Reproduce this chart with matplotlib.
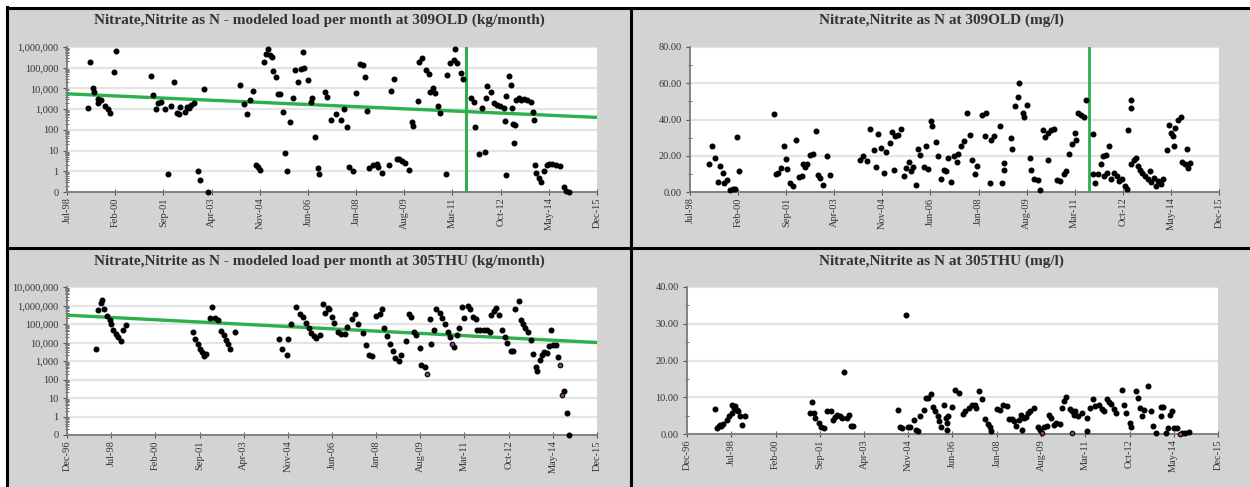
import datetime as dt

import matplotlib
matplotlib.use("Agg")
import matplotlib.pyplot as plt
import matplotlib.ticker as ticker
from matplotlib.lines import Line2D
from matplotlib.patches import Rectangle

# ---- data (dates as decimal years) ----
top_ticks = ["Jul-98", "Feb-00", "Sep-01", "Apr-03", "Nov-04", "Jun-06",
             "Jan-08", "Aug-09", "Mar-11", "Oct-12", "May-14", "Dec-15"]
bottom_ticks = ["Dec-96"] + top_ticks

break_date = 2011.62

# 309OLD modeled load (kg/month)
old_load_dates = [
    1999.17, 1999.26, 1999.34, 1999.40, 1999.50, 1999.62, 1999.53, 1999.75, 1999.83, 1999.92,
    2000.04, 2000.11, 2001.25, 2001.33, 2001.42, 2001.50, 2001.58, 2001.73, 2001.83, 2001.92,
    2002.00, 2002.11, 2002.17, 2002.22, 2002.38, 2002.43, 2002.49, 2002.58, 2002.66, 2002.80,
    2002.88, 2003.00, 2003.12, 2004.17, 2004.33, 2004.42, 2004.52, 2004.61, 2004.72, 2004.76,
    2004.85, 2004.96, 2005.03, 2005.10, 2005.16, 2005.23, 2005.27, 2005.35, 2005.42, 2005.50,
    2005.59, 2005.67, 2005.73, 2005.83, 2005.92, 2006.00, 2006.08, 2006.17, 2006.24, 2006.30,
    2006.41, 2006.55, 2006.50, 2006.66, 2006.73, 2006.77, 2006.96, 2007.03, 2007.17, 2007.33,
    2007.51, 2007.61, 2007.69, 2007.78, 2007.88, 2008.00, 2008.13, 2008.21, 2008.30, 2008.36,
    2008.43, 2008.55, 2008.68, 2008.73, 2008.84, 2009.08, 2009.14, 2009.23, 2009.33, 2009.42,
    2009.50, 2009.61, 2009.72, 2009.83, 2009.88, 2010.03, 2010.08, 2010.16, 2010.29, 2010.38,
    2010.43, 2010.51, 2010.58, 2010.68, 2010.77, 2010.95, 2011.00, 2011.08, 2011.20, 2011.26,
    2011.31, 2011.45, 2011.51, 2011.78, 2011.86, 2011.92, 2012.03, 2012.23, 2012.12, 2012.27,
    2012.30, 2012.42, 2012.52, 2012.63, 2012.73, 2012.85, 2012.88, 2012.93, 2012.94, 2013.03,
    2013.08, 2013.13, 2013.14, 2013.23, 2013.18, 2013.26, 2013.34, 2013.43, 2013.51, 2013.62,
    2013.73, 2013.80, 2013.83, 2013.87, 2013.92, 2014.00, 2014.08, 2014.17, 2014.27, 2014.35,
    2014.43, 2014.57, 2014.71, 2014.82, 2014.89, 2014.98]
old_load_vals = [
    1100, 180000, 11000, 7000, 3000, 2700, 1900, 1400, 1000, 630,
    59000, 650000, 40000, 4800, 980, 1900, 2300, 980, 0.72, 1400,
    19500, 630, 560, 1300, 740, 1300, 1100, 1500, 1900, 1.05,
    0.39, 9000, 0.1, 14500, 1750, 560, 2700, 7400, 2.0, 1.7,
    1.1, 180000, 480000, 830000, 430000, 330000, 68000, 34000, 5300, 5300,
    740, 7.4, 1.0, 230, 3500, 81000, 21000, 91000, 570000, 100000,
    25000, 3500, 2300, 47, 1.5, 0.76, 6900, 4000, 300, 570,
    310, 980, 130, 1.7, 1.0, 5800, 158000, 130000, 36000, 830,
    1.4, 2.0, 2.2, 1.7, 0.87, 2.0, 7600, 27000, 3.8, 3.8,
    3.3, 2.5, 1.1, 250, 155, 2500, 190000, 310000, 76000, 52000,
    6900, 11000, 6100, 1400, 670, 0.76, 44000, 160000, 230000, 830000,
    160000, 56000, 27000, 3300, 2300, 140, 6.9, 9, 1200, 3300,
    13000, 6900, 1900, 1600, 1400, 1200, 280, 4300, 0.68, 39000,
    14500, 1200, 200, 170, 22, 2800, 3300, 2800, 3000, 2800,
    2300, 740, 300, 2.0, 0.8, 0.47, 0.32, 1.0, 2.0, 2.3,
    2.2, 2.0, 1.8, 0.17, 0.11, 0.1]
old_trend_dates = [1998.50, 2015.92]
old_trend_vals = [5500, 400]

# 309OLD concentration (mg/l)
old_conc_dates = [
    1999.13, 1999.22, 1999.33, 1999.41, 1999.48, 1999.59, 1999.63, 1999.73, 1999.82, 1999.90,
    1999.97, 2000.03, 2000.10, 2001.25, 2001.33, 2001.39, 2001.50, 2001.58, 2001.64, 2001.69,
    2001.80, 2001.89, 2002.00, 2002.08, 2002.17, 2002.20, 2002.28, 2002.35, 2002.44, 2002.53,
    2002.64, 2002.72, 2002.79, 2002.86, 2003.02, 2003.10, 2004.10, 2004.18, 2004.32, 2004.41,
    2004.54, 2004.63, 2004.70, 2004.78, 2004.87, 2004.96, 2005.07, 2005.13, 2005.20, 2005.26,
    2005.33, 2005.44, 2005.53, 2005.61, 2005.70, 2005.78, 2005.84, 2005.92, 2005.99, 2006.08,
    2006.19, 2006.27, 2006.33, 2006.42, 2006.48, 2006.58, 2006.66, 2006.77, 2006.86, 2006.92,
    2006.99, 2007.08, 2007.19, 2007.28, 2007.33, 2007.43, 2007.52, 2007.63, 2007.71, 2007.79,
    2007.87, 2007.96, 2008.11, 2008.20, 2008.25, 2008.36, 2008.41, 2008.52, 2008.69, 2008.78,
    2008.83, 2008.85, 2009.05, 2009.09, 2009.20, 2009.31, 2009.34, 2009.46, 2009.48, 2009.60,
    2009.68, 2009.73, 2009.83, 2009.95, 2010.03, 2010.11, 2010.18, 2010.28, 2010.28, 2010.38,
    2010.49, 2010.58, 2010.69, 2010.80, 2010.88, 2010.98, 2011.08, 2011.18, 2011.21, 2011.28,
    2011.37, 2011.46, 2011.53, 2011.75, 2011.78, 2011.83, 2011.92, 2012.03, 2012.11, 2012.13,
    2012.19, 2012.24, 2012.30, 2012.35, 2012.46, 2012.55, 2012.63, 2012.73, 2012.81, 2012.88,
    2012.93, 2013.01, 2013.03, 2013.03, 2013.12, 2013.19, 2013.23, 2013.32, 2013.39, 2013.47,
    2013.56, 2013.64, 2013.68, 2013.78, 2013.83, 2013.91, 2013.99, 2014.08, 2014.19, 2014.27,
    2014.34, 2014.40, 2014.43, 2014.48, 2014.56, 2014.65, 2014.70, 2014.81, 2014.87, 2014.90,
    2014.96]
old_conc_vals = [
    15.2, 25.6, 18.8, 5.7, 14.2, 10.6, 5.1, 6.4, 1.1, 1.8,
    1.5, 30.5, 11.5, 43.1, 10.0, 10.6, 13.3, 25.6, 18.3, 12.8,
    5.1, 3.3, 28.9, 8.4, 8.8, 15.2, 13.7, 15.7, 20.3, 21.2,
    33.4, 9.3, 7.5, 4.0, 19.7, 9.3, 17.4, 19.7, 17.0, 34.7,
    23.4, 13.9, 32.0, 24.3, 10.6, 21.9, 27.0, 32.9, 12.4, 30.7,
    31.4, 34.7, 8.8, 13.3, 16.4, 11.5, 13.9, 3.7, 23.9, 20.6,
    13.9, 25.2, 12.8, 38.9, 36.5, 27.4, 20.1, 6.9, 12.4, 11.5,
    18.8, 5.5, 20.1, 16.4, 21.2, 25.6, 27.9, 43.5, 31.6, 17.9,
    10.2, 14.2, 42.6, 30.7, 43.5, 4.7, 28.9, 31.1, 36.2, 4.7,
    12.4, 16.1, 29.8, 23.9, 47.5, 52.2, 60.3, 43.8, 41.3, 48.0,
    18.8, 12.4, 7.3, 6.6, 1.1, 34.3, 30.3, 32.5, 17.9, 34.0,
    34.7, 6.6, 6.0, 9.7, 11.5, 21.2, 26.7, 32.5, 28.9, 43.8,
    42.6, 41.6, 50.8, 32.0, 9.7, 5.1, 9.7, 15.2, 19.7, 8.8,
    20.6, 10.6, 25.6, 6.9, 10.6, 8.8, 6.0, 6.9, 3.3, 1.5,
    34.3, 15.7, 50.8, 46.2, 17.9, 18.8, 14.2, 12.4, 10.6, 9.1,
    6.9, 11.5, 5.5, 7.9, 3.3, 6.0, 4.2, 6.9, 23.0, 37.1,
    32.5, 30.7, 25.2, 35.3, 39.8, 41.6, 16.4, 15.2, 23.9, 13.3,
    16.1]

# 305THU modeled load (kg/month)
thu_load_dates = [
    1997.94, 1998.03, 1998.12, 1998.18, 1998.24, 1998.36, 1998.46, 1998.50, 1998.58, 1998.66,
    1998.74, 1998.84, 1998.92, 1999.03, 2001.42, 2001.51, 2001.61, 2001.67, 2001.75, 2001.83,
    2001.91, 2002.03, 2002.12, 2002.21, 2002.32, 2002.45, 2002.54, 2002.63, 2002.69, 2002.77,
    2002.93, 2004.52, 2004.83, 2004.63, 2004.79, 2004.93, 2005.12, 2005.27, 2005.37, 2005.47,
    2005.58, 2005.66, 2005.76, 2005.84, 2006.00, 2006.08, 2006.18, 2006.26, 2006.32, 2006.42,
    2006.50, 2006.62, 2006.74, 2006.89, 2006.97, 2007.13, 2007.25, 2007.33, 2007.52, 2007.65,
    2007.73, 2007.85, 2008.01, 2008.12, 2008.21, 2008.29, 2008.39, 2008.51, 2008.59, 2008.69,
    2008.81, 2008.89, 2009.05, 2009.17, 2009.25, 2009.35, 2009.44, 2009.56, 2009.61, 2009.73,
    2009.92, 2009.97, 2010.08, 2010.16, 2010.27, 2010.36, 2010.48, 2010.57, 2010.66, 2010.78,
    2010.88, 2010.98, 2011.08, 2011.14, 2011.28, 2011.36, 2011.48, 2011.56, 2011.62, 2011.73,
    2011.86, 2011.97, 2012.09, 2012.12, 2012.22, 2012.31, 2012.39, 2012.52, 2012.60, 2012.69,
    2012.83, 2012.91, 2012.99, 2013.11, 2013.18, 2013.27, 2013.35, 2013.43, 2013.53, 2013.63,
    2013.71, 2013.77, 2013.87, 2013.95, 2014.01, 2014.13, 2014.19, 2014.28, 2014.34, 2014.43,
    2014.51, 2014.74, 2014.83, 2014.92]
thu_load_vals = [
    4700, 540000, 1400000, 1900000, 620000, 270000, 156000, 100000, 50000, 29000,
    19500, 12000, 50000, 83000, 38000, 16000, 7800, 4200, 3000, 1950,
    2400, 220000, 830000, 200000, 155000, 41000, 25000, 14500, 8500, 4200,
    36000, 16000, 16000, 4700, 2200, 94000, 830000, 330000, 240000, 120000,
    61000, 33000, 22000, 16500, 25000, 1150000, 400000, 690000, 620000, 240000,
    120000, 38000, 29000, 29000, 68000, 180000, 330000, 94000, 33000, 7000,
    2200, 1800, 270000, 330000, 620000, 61000, 22000, 8500, 3600, 1500,
    1050, 2000, 12000, 330000, 240000, 38000, 25000, 5100, 630, 460,
    180000, 7800, 50000, 620000, 400000, 200000, 94000, 38000, 19500, 5600,
    27000, 58000, 830000, 200000, 940000, 620000, 240000, 180000, 50000, 45000,
    45000, 45000, 38000, 300000, 500000, 760000, 300000, 50000, 19500, 9500,
    3600, 3600, 620000, 1740000, 156000, 94000, 61000, 38000, 13000, 2400,
    460, 280, 1200, 2200, 3100, 2700, 6300, 45000, 7000, 7000,
    1600, 25, 1.5, 0.1]
thu_load_flag_dates = [2009.82, 2010.70, 2014.58, 2014.66]
thu_load_flag_vals = [200, 8500, 630, 15]
thu_trend_dates = [1996.92, 2015.92]
thu_trend_vals = [300000, 10000]

# 305THU concentration (mg/l)
thu_conc_dates = [
    1997.91, 1997.99, 1998.07, 1998.09, 1998.15, 1998.21, 1998.36, 1998.43, 1998.51, 1998.51,
    1998.58, 1998.63, 1998.69, 1998.75, 1998.81, 1998.88, 1998.99, 2001.33, 2001.39, 2001.45,
    2001.51, 2001.62, 2001.72, 2001.81, 2001.92, 2002.05, 2002.14, 2002.22, 2002.29, 2002.38,
    2002.47, 2002.53, 2002.63, 2002.71, 2002.77, 2002.87, 2004.45, 2004.54, 2004.62, 2004.75,
    2004.81, 2004.90, 2005.03, 2005.11, 2005.19, 2005.26, 2005.41, 2005.47, 2005.55, 2005.63,
    2005.71, 2005.79, 2005.88, 2005.94, 2006.01, 2006.12, 2006.18, 2006.21, 2006.23, 2006.25,
    2006.39, 2006.51, 2006.63, 2006.78, 2006.87, 2006.99, 2007.11, 2007.23, 2007.27, 2007.38,
    2007.47, 2007.58, 2007.67, 2007.77, 2007.79, 2008.00, 2008.10, 2008.24, 2008.36, 2008.43,
    2008.54, 2008.62, 2008.70, 2008.78, 2008.87, 2008.90, 2008.96, 2009.06, 2009.11, 2009.20,
    2009.34, 2009.46, 2009.53, 2009.70, 2009.79, 2009.86, 2009.94, 2010.03, 2010.13, 2010.25,
    2010.33, 2010.42, 2010.49, 2010.61, 2010.69, 2010.75, 2010.81, 2010.89, 2011.05, 2011.23,
    2011.23, 2011.35, 2011.44, 2011.53, 2011.65, 2011.77, 2011.85, 2011.95, 2012.01, 2012.09,
    2012.18, 2012.28, 2012.48, 2012.55, 2012.61, 2012.77, 2012.81, 2012.97, 2013.05, 2013.14,
    2013.20, 2013.28, 2013.41, 2013.50, 2013.60, 2013.68, 2013.87, 2013.96, 2013.87, 2014.04,
    2014.13, 2014.20, 2014.28, 2014.33, 2014.43, 2014.63, 2014.75, 2014.87]
thu_conc_vals = [
    6.9, 1.6, 2.1, 2.5, 2.1, 2.8, 3.9, 4.8, 8.0, 5.7,
    7.1, 7.5, 6.6, 6.2, 4.8, 2.5, 4.8, 5.7, 8.7, 5.7,
    4.4, 3.0, 1.8, 1.5, 6.2, 6.2, 3.9, 4.5, 5.3, 4.8,
    4.4, 16.9, 4.4, 5.1, 2.1, 2.1, 6.4, 1.8, 1.5, 32.3,
    1.8, 1.8, 3.9, 1.2, 0.7, 4.8, 6.4, 9.8, 9.8, 10.9,
    7.3, 6.2, 4.8, 3.6, 1.8, 8.0, 4.4, 3.0, 1.2, 4.8,
    7.3, 12.1, 11.2, 5.5, 6.2, 7.1, 7.8, 8.0, 7.1, 11.6,
    9.4, 4.2, 2.8, 1.8, 0.9, 6.9, 6.6, 7.8, 7.5, 4.2,
    4.2, 3.5, 2.1, 3.9, 5.3, 1.2, 4.4, 4.5, 5.7, 6.2,
    7.1, 1.8, 1.2, 1.8, 2.1, 5.1, 4.4, 2.5, 3.0, 2.7,
    7.1, 8.9, 10.0, 6.8, 6.2, 5.3, 6.2, 4.8, 5.7, 4.4,
    0.9, 7.1, 9.4, 7.7, 7.8, 6.9, 6.2, 9.4, 8.7, 8.2,
    6.9, 5.7, 12.1, 8.0, 5.7, 3.0, 1.8, 11.6, 9.8, 7.1,
    4.8, 6.6, 13.0, 6.2, 2.1, 0.3, 7.3, 7.3, 4.8, 0.3,
    1.5, 5.1, 6.2, 1.6, 1.6, 0.3, 0.3, 0.5]
thu_conc_flag_dates = [2009.62, 2010.69, 2014.55]
thu_conc_flag_vals = [0.3, 0.3, 0.05]

# ---- helpers ----
W, H = 1250, 487
GREEN = "#2db04b"
GRAY = "#d3d3d3"
SERIF = "Liberation Serif"
TICK_SIZE = 7.5


def to_date(y):
    yr = int(y)
    return dt.datetime(yr, 1, 1) + dt.timedelta(days=(y - yr) * 365.25)


def dates(ys):
    return [to_date(y) for y in ys]


def box(left, top, right, bottom):
    # pixel box (top-left origin) -> figure fraction rect
    return [left / W, 1 - bottom / H, (right - left) / W, (bottom - top) / H]


def style_axes(ax, ticks):
    tick_dates = [dt.datetime.strptime(t, "%b-%y") for t in ticks]
    ax.set_xlim(tick_dates[0], tick_dates[-1])
    ax.set_xticks(tick_dates)
    ax.set_xticklabels(ticks, rotation=90, fontfamily=SERIF, fontsize=TICK_SIZE,
                       color="#333333")
    ax.set_facecolor("white")
    for s in ["top", "right"]:
        ax.spines[s].set_visible(False)
    for s in ["left", "bottom"]:
        ax.spines[s].set_color("#7a7a7a")
        ax.spines[s].set_linewidth(1.3)
    ax.grid(axis="y", which="major", color="#e4e4e4", linewidth=1.6)
    ax.set_axisbelow(True)
    ax.tick_params(axis="x", direction="inout", length=4, width=0.8, color="#555555", pad=2)
    ax.tick_params(axis="y", which="major", direction="out", length=3, width=0.8,
                   color="#555555", pad=3, labelsize=TICK_SIZE, labelcolor="#333333")
    ax.tick_params(axis="y", which="minor", direction="inout", length=3, width=0.6,
                   color="#555555")
    for lab in ax.get_yticklabels():
        lab.set_fontfamily(SERIF)


def log_axis(ax, top):
    ax.set_yscale("log")
    ax.set_ylim(0.1, top)
    ax.yaxis.set_major_locator(ticker.LogLocator(base=10, numticks=20))
    ax.yaxis.set_minor_locator(ticker.LogLocator(base=10, subs=range(2, 10), numticks=20))
    ax.yaxis.set_minor_formatter(ticker.NullFormatter())
    ax.yaxis.set_major_formatter(ticker.FuncFormatter(lambda v, p: f"{v:,.0f}"))


def lin_axis(ax, top, major):
    ax.set_ylim(0, top)
    ax.yaxis.set_major_locator(ticker.MultipleLocator(major))
    ax.yaxis.set_minor_locator(ticker.MultipleLocator(major / 2))
    ax.yaxis.set_major_formatter(ticker.FormatStrFormatter("%.2f"))


def points(ax, xs, ys):
    ax.plot(dates(xs), ys, linestyle="none", marker="o", markersize=3.3,
            color="black", zorder=4, clip_on=False)


def flagged(ax, xs, ys):
    ax.plot(dates(xs), ys, linestyle="none", marker="o", markersize=3.3,
            markerfacecolor="#8a3c8a", markeredgecolor="black", markeredgewidth=0.8,
            zorder=5, clip_on=False)


# ---- figure ----
fig = plt.figure(figsize=(W / 100, H / 100), dpi=100)
fig.patch.set_facecolor("white")

fig.add_artist(Rectangle((8 / W, 0), 1, 1 - 9 / H, transform=fig.transFigure,
                         facecolor=GRAY, edgecolor="none", zorder=0))
for xs, ys in [([7, W], [8, 8]), ([7, 7], [7, H]), ([631, 631], [8, H]), ([7, W], [248, 248])]:
    fig.add_artist(Line2D([x / W for x in xs], [1 - y / H for y in ys],
                          transform=fig.transFigure, color="black", linewidth=2.2, zorder=1))

titles = [
    ("Nitrate,Nitrite as N - modeled load per month at 309OLD (kg/month)", 319, 20),
    ("Nitrate,Nitrite as N at 309OLD (mg/l)", 941, 20),
    ("Nitrate,Nitrite as N - modeled load per month at 305THU (kg/month)", 319, 261),
    ("Nitrate,Nitrite as N at 305THU (mg/l)", 941, 261),
]
for text, x, y in titles:
    fig.text(x / W, 1 - y / H, text, ha="center", va="center", fontfamily=SERIF,
             fontweight="bold", fontsize=11, color="#333333")

# top-left: 309OLD load
ax1 = fig.add_axes(box(67, 47, 597, 192))
log_axis(ax1, 1e6)
points(ax1, old_load_dates, old_load_vals)
ax1.plot(dates(old_trend_dates), old_trend_vals, color=GREEN, linewidth=2.4, zorder=3)
ax1.axvline(to_date(break_date), color=GREEN, linewidth=2.2, zorder=3)
style_axes(ax1, top_ticks)

# top-right: 309OLD concentration
ax2 = fig.add_axes(box(690, 47, 1219, 192))
lin_axis(ax2, 80, 20)
points(ax2, old_conc_dates, old_conc_vals)
ax2.axvline(to_date(break_date), color=GREEN, linewidth=2.0, zorder=3)
style_axes(ax2, top_ticks)

# bottom-left: 305THU load
ax3 = fig.add_axes(box(67, 287, 597, 435))
log_axis(ax3, 1e7)
points(ax3, thu_load_dates, thu_load_vals)
flagged(ax3, thu_load_flag_dates, thu_load_flag_vals)
ax3.plot(dates(thu_trend_dates), thu_trend_vals, color=GREEN, linewidth=2.4, zorder=3)
style_axes(ax3, bottom_ticks)

# bottom-right: 305THU concentration
ax4 = fig.add_axes(box(687, 287, 1218, 434))
lin_axis(ax4, 40, 10)
points(ax4, thu_conc_dates, thu_conc_vals)
flagged(ax4, thu_conc_flag_dates, thu_conc_flag_vals)
style_axes(ax4, bottom_ticks)

fig.savefig("out.png", dpi=100, facecolor=fig.get_facecolor())
